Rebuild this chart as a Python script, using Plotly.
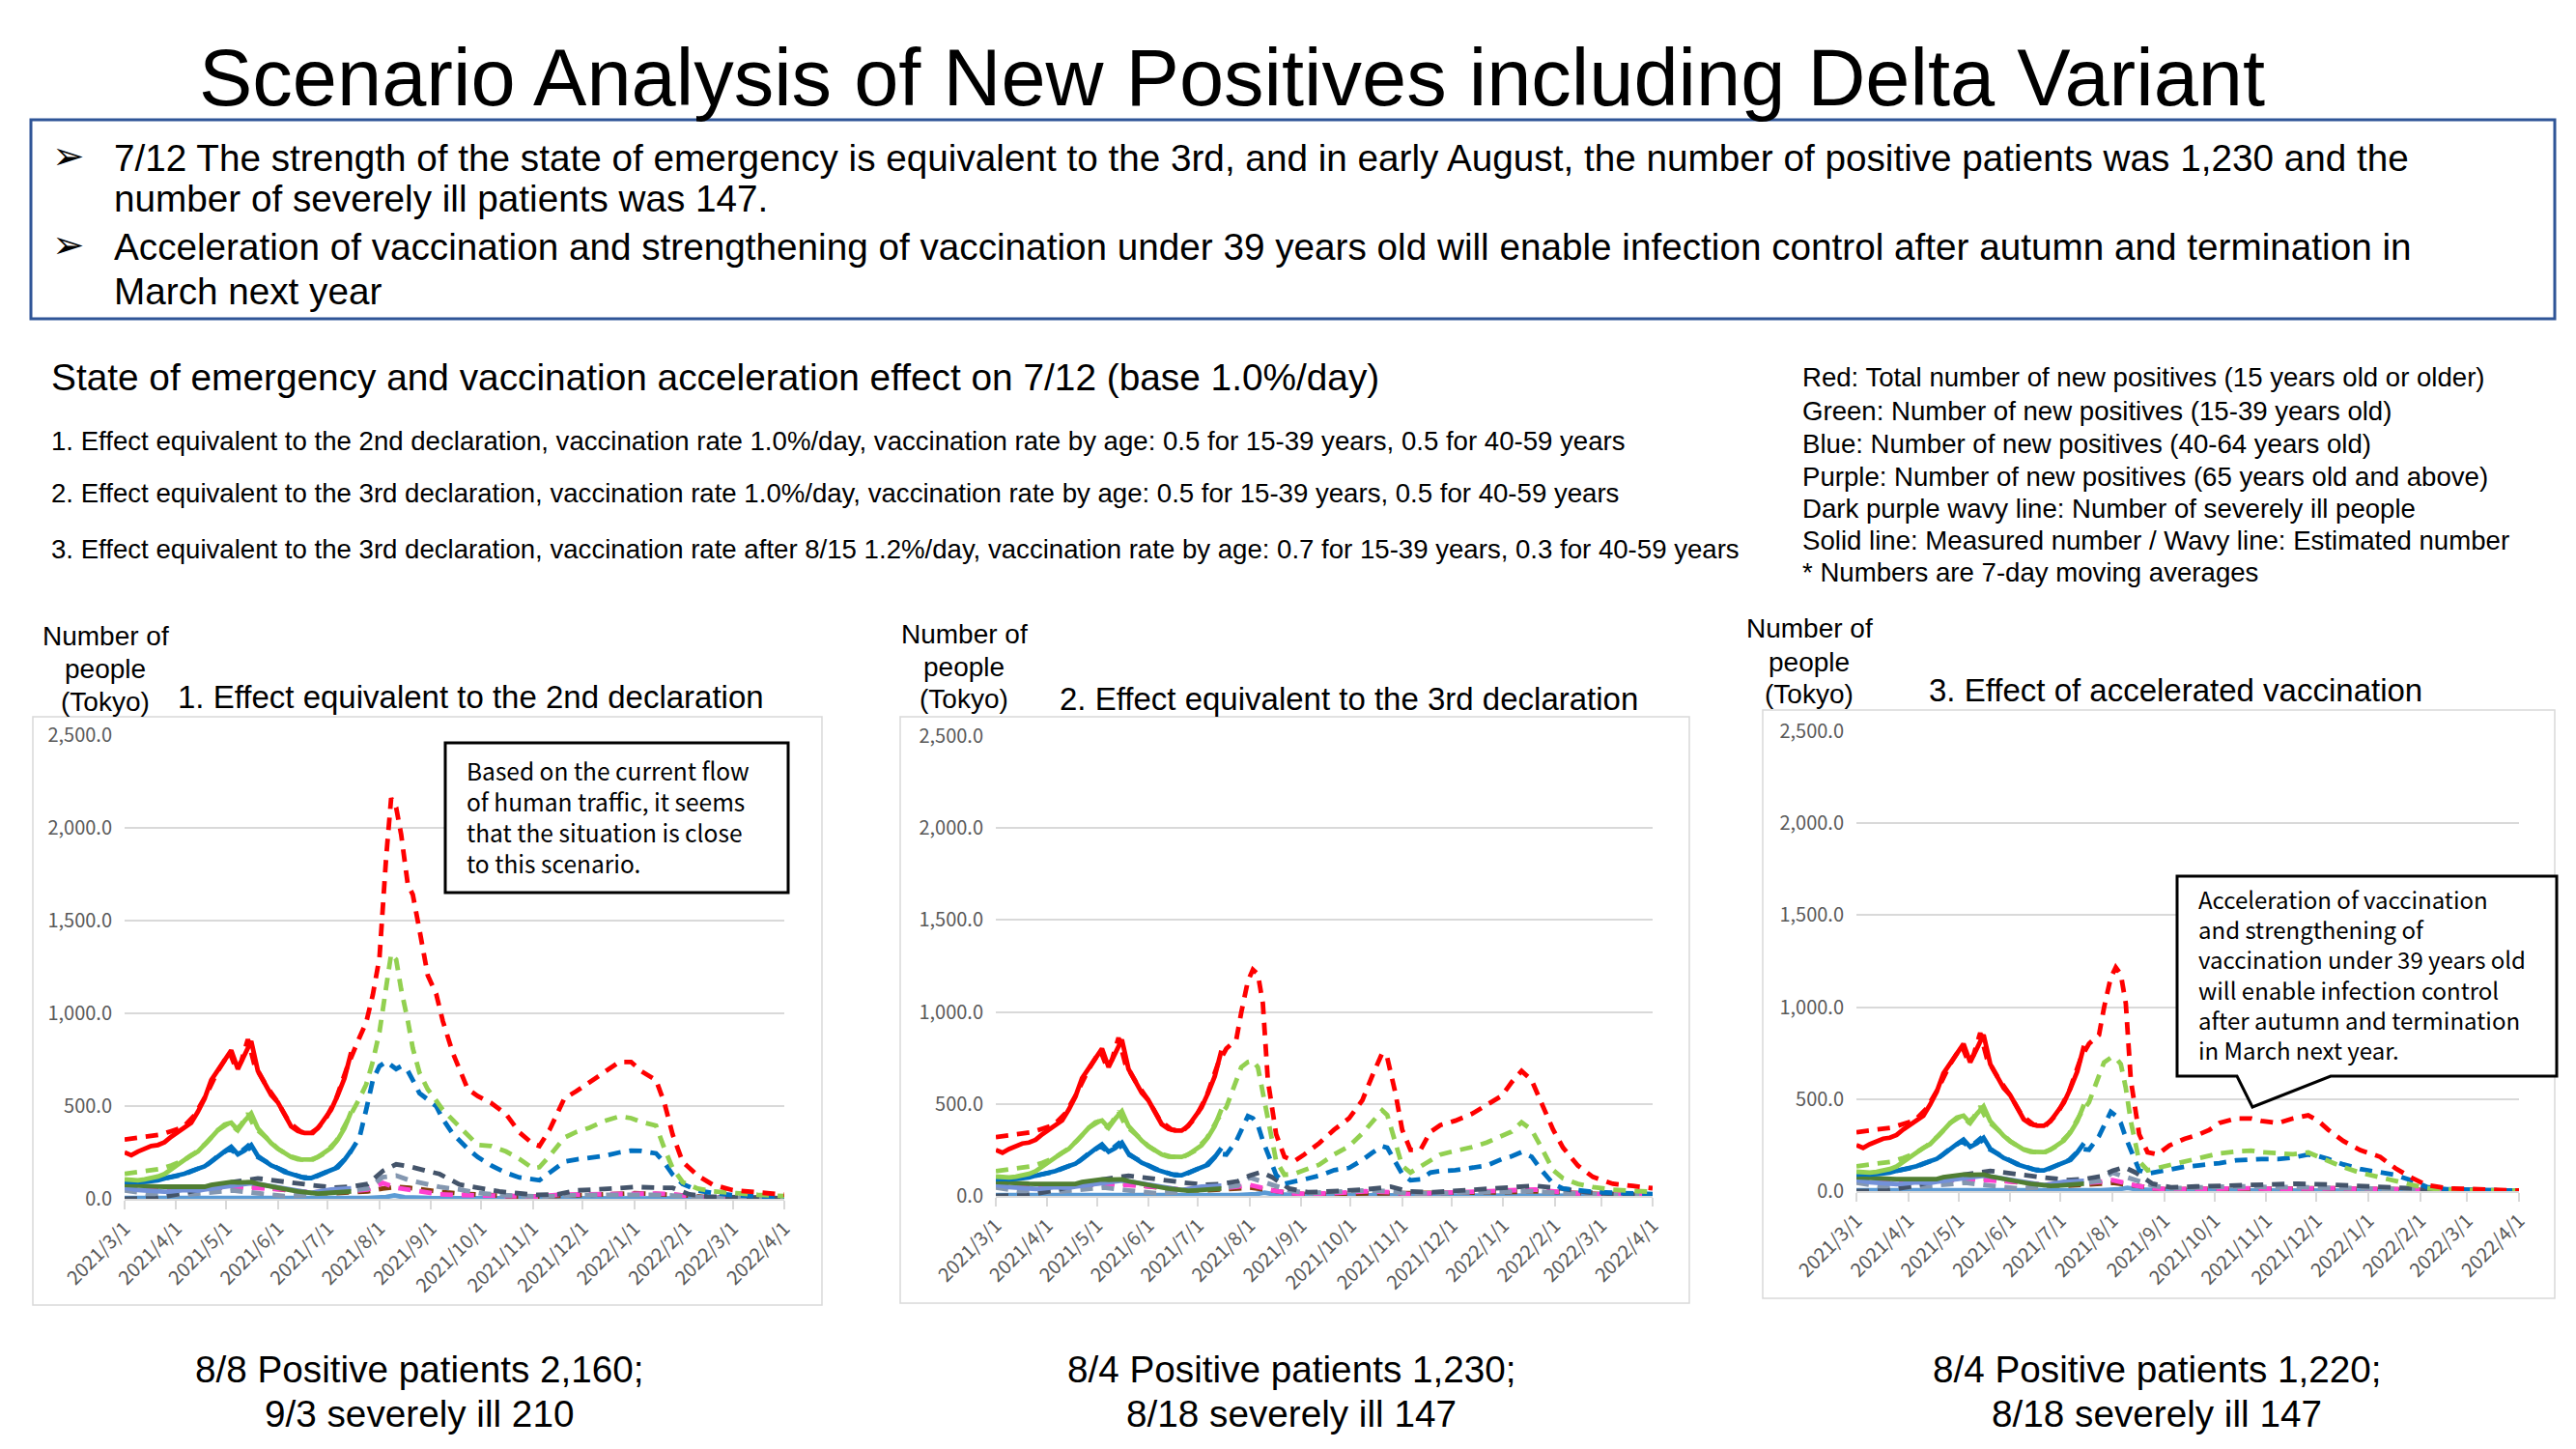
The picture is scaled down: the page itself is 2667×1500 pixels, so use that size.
import plotly.graph_objects as go

W, H = 2667, 1500

# ------------------------------------------------------------------ data
month_ticks = ["2021-03-01", "2021-04-01", "2021-05-01", "2021-06-01", "2021-07-01",
               "2021-08-01", "2021-09-01", "2021-10-01", "2021-11-01", "2021-12-01",
               "2022-01-01", "2022-02-01", "2022-03-01", "2022-04-01"]
month_labels = ["2021/3/1", "2021/4/1", "2021/5/1", "2021/6/1", "2021/7/1", "2021/8/1",
                "2021/9/1", "2021/10/1", "2021/11/1", "2021/12/1", "2022/1/1", "2022/2/1",
                "2022/3/1", "2022/4/1"]
y_ticks = [0, 500, 1000, 1500, 2000, 2500]

# measured (solid) series, shared by the three scenarios
meas_dates = ["2021-03-01", "2021-03-05", "2021-03-09", "2021-03-13", "2021-03-17", "2021-03-21",
              "2021-03-25", "2021-03-29", "2021-04-02", "2021-04-06", "2021-04-10", "2021-04-14",
              "2021-04-18", "2021-04-22", "2021-04-26", "2021-04-30", "2021-05-04", "2021-05-08",
              "2021-05-12", "2021-05-16", "2021-05-20", "2021-05-24", "2021-05-28", "2021-06-01",
              "2021-06-05", "2021-06-09", "2021-06-13", "2021-06-17", "2021-06-21", "2021-06-25",
              "2021-06-29", "2021-07-03", "2021-07-07", "2021-07-11", "2021-07-15"]
red_meas = [250, 235, 255, 270, 285, 290, 305, 335, 360, 380, 410, 470, 540, 640, 690, 740, 800, 700,
            770, 850, 690, 620, 560, 520, 450, 390, 365, 355, 355, 380, 430, 480, 560, 650, 790]
green_meas = [105, 100, 100, 105, 110, 120, 134, 160, 185, 210, 235, 255, 290, 330, 370, 400, 410, 370,
              420, 460, 380, 340, 300, 270, 245, 225, 213, 210, 212, 225, 250, 275, 320, 380, 470]
blue_meas = [95, 90, 90, 92, 95, 100, 110, 118, 125, 135, 150, 160, 175, 200, 230, 255, 280, 240,
             260, 290, 230, 205, 180, 165, 145, 134, 120, 112, 112, 125, 140, 155, 170, 210, 260]
dkgreen_meas = [75, 72, 70, 68, 68, 66, 65, 65, 62, 60, 60, 62, 65, 75, 82, 88, 90, 88,
                92, 90, 80, 72, 68, 60, 52, 46, 40, 34, 30, 28, 30, 32, 35, 38, 40]
lavender_meas = [60, 52, 48, 45, 42, 40, 38, 40, 45, 48, 46, 44, 50, 55, 60, 64, 68, 72,
                 80, 84, 80, 74, 68, 62, 56, 50, 42, 36, 32, 38, 45, 50, 52, 55, 56]

lightblue_dates = ["2021-03-01", "2021-04-01", "2021-05-01", "2021-06-01", "2021-07-01", "2021-07-25",
                   "2021-08-05", "2021-08-10", "2021-08-16", "2021-09-01", "2021-10-01", "2021-11-01",
                   "2021-12-01", "2022-01-01", "2022-02-01", "2022-03-01", "2022-04-01"]
lightblue_vals = [4, 3, 5, 4, 3, 5, 10, 18, 8, 4, 3, 2, 3, 3, 2, 1, 1]

# estimated (dashed) series: common early part
est_early_dates = ["2021-03-01", "2021-03-08", "2021-03-15", "2021-03-22", "2021-03-29", "2021-04-05",
                   "2021-04-12", "2021-04-19", "2021-04-26", "2021-05-03", "2021-05-07", "2021-05-10",
                   "2021-05-14", "2021-05-18", "2021-05-25", "2021-06-01", "2021-06-08", "2021-06-15",
                   "2021-06-22", "2021-06-29", "2021-07-06", "2021-07-13"]
red_est_early = [320, 330, 335, 345, 365, 385, 450, 560, 690, 790, 700, 740, 860, 720, 610, 520, 410,
                 360, 355, 420, 540, 720]
green_est_early = [135, 145, 150, 160, 180, 205, 245, 300, 370, 410, 375, 400, 460, 385, 330, 270, 230,
                   212, 212, 245, 310, 420]
blue_est_early = [90, 92, 98, 105, 118, 130, 155, 180, 230, 270, 245, 255, 285, 235, 200, 165, 138,
                  118, 112, 140, 168, 230]

# scenario 1: effect equivalent to the 2nd declaration
s1_late_dates = ["2021-07-20", "2021-07-24", "2021-07-28", "2021-08-01", "2021-08-05", "2021-08-08",
                 "2021-08-11", "2021-08-14", "2021-08-18", "2021-08-21", "2021-08-25", "2021-08-30",
                 "2021-09-04", "2021-09-08", "2021-09-14", "2021-09-23", "2021-09-29", "2021-10-07",
                 "2021-10-16", "2021-10-24", "2021-11-01", "2021-11-05", "2021-11-11", "2021-11-20",
                 "2021-11-27", "2021-12-05", "2021-12-14", "2021-12-23", "2021-12-30", "2022-01-05",
                 "2022-01-14", "2022-01-19", "2022-01-24", "2022-01-30", "2022-02-08", "2022-02-17",
                 "2022-03-01", "2022-03-16", "2022-04-01"]
s1_red_late = [870, 950, 1100, 1300, 1840, 2160, 2110, 1965, 1695, 1640, 1450, 1204, 1106, 959, 787,
               591, 554, 517, 456, 358, 297, 285, 370, 542, 579, 628, 689, 738, 738, 689, 640, 518,
               346, 199, 125, 76, 47, 32, 22]
s1_green_late = [540, 616, 740, 900, 1150, 1320, 1290, 1130, 960, 812, 680, 590, 530, 480, 425, 345,
                 290, 285, 255, 215, 165, 170, 230, 330, 360, 383, 420, 444, 435, 415, 395, 272, 165,
                 90, 55, 40, 30, 22, 15]
s1_blue_late = [330, 480, 640, 715, 740, 720, 700, 715, 690, 640, 570, 535, 500, 430, 350, 270, 225,
                180, 140, 115, 102, 100, 140, 200, 212, 220, 232, 250, 260, 258, 245, 195, 130, 80,
                45, 32, 20, 14, 8]

# scenario 2: effect equivalent to the 3rd declaration
s2_late_dates = ["2021-07-18", "2021-07-24", "2021-07-27", "2021-07-31", "2021-08-03", "2021-08-06",
                 "2021-08-09", "2021-08-12", "2021-08-17", "2021-08-22", "2021-08-28", "2021-09-03",
                 "2021-09-12", "2021-09-21", "2021-09-30", "2021-10-08", "2021-10-14", "2021-10-20",
                 "2021-10-23", "2021-10-28", "2021-11-01", "2021-11-06", "2021-11-12", "2021-11-18",
                 "2021-11-24", "2021-12-03", "2021-12-13", "2021-12-22", "2021-12-31", "2022-01-06",
                 "2022-01-12", "2022-01-18", "2022-01-24", "2022-01-31", "2022-02-06", "2022-02-15",
                 "2022-02-24", "2022-03-08", "2022-03-20", "2022-04-01"]
s2_red_late = [801, 850, 998, 1169, 1230, 1206, 1047, 630, 336, 213, 189, 225, 287, 360, 422, 520,
               654, 777, 752, 556, 360, 250, 250, 348, 385, 409, 446, 495, 544, 618, 679, 630, 507,
               360, 262, 164, 103, 66, 54, 42]
s2_green_late = [483, 640, 700, 728, 735, 700, 560, 400, 190, 115, 120, 140, 170, 225, 270, 340, 400,
                 465, 440, 287, 164, 127, 160, 195, 225, 245, 265, 290, 324, 350, 400, 360, 262, 140,
                 95, 65, 48, 34, 28, 22]
s2_blue_late = [225, 299, 360, 434, 422, 385, 300, 230, 115, 66, 75, 90, 110, 140, 152, 195, 235, 270,
                262, 189, 120, 85, 90, 127, 135, 140, 150, 165, 200, 215, 238, 213, 140, 66, 40, 28,
                22, 17, 13, 10]

# scenario 3: effect of accelerated vaccination
s3_late_dates = ["2021-07-18", "2021-07-24", "2021-07-27", "2021-07-31", "2021-08-03", "2021-08-06",
                 "2021-08-09", "2021-08-12", "2021-08-17", "2021-08-22", "2021-08-28", "2021-09-04",
                 "2021-09-13", "2021-09-22", "2021-09-28", "2021-10-04", "2021-10-14", "2021-10-23",
                 "2021-10-29", "2021-11-08", "2021-11-17", "2021-11-26", "2021-12-02", "2021-12-08",
                 "2021-12-17", "2021-12-27", "2022-01-08", "2022-01-17", "2022-01-26", "2022-02-05",
                 "2022-02-17", "2022-03-10", "2022-04-01"]
s3_red_late = [801, 850, 998, 1160, 1216, 1179, 1020, 603, 309, 211, 199, 248, 284, 309, 333, 370,
               395, 395, 382, 370, 395, 412, 382, 333, 272, 223, 186, 125, 76, 32, 15, 7, 3]
s3_green_late = [483, 640, 700, 725, 725, 690, 560, 380, 162, 113, 125, 140, 162, 180, 190, 205, 215,
                 220, 212, 205, 200, 210, 186, 165, 130, 100, 76, 55, 35, 15, 8, 4, 2]
s3_blue_late = [225, 299, 360, 431, 410, 370, 290, 220, 113, 95, 105, 122, 132, 140, 145, 152, 167,
                172, 174, 174, 182, 199, 190, 174, 145, 120, 100, 88, 60, 22, 10, 4, 2]

# minor estimated series (65+, severely ill, ...)
minor_early_dates = ["2021-03-01", "2021-03-20", "2021-04-05", "2021-04-20", "2021-05-05", "2021-05-20",
                     "2021-06-05", "2021-06-20", "2021-07-05", "2021-07-15"]
slate_early = [0, 3, 30, 60, 90, 110, 95, 75, 60, 65]
gray_early = [45, 20, 20, 30, 45, 30, 15, 20, 40, 45]
magenta_early = [65, 62, 60, 55, 65, 60, 50, 35, 38, 42]
brown_early = [50, 45, 45, 52, 70, 65, 45, 32, 30, 32]

s1_minor_dates = ["2021-07-25", "2021-08-03", "2021-08-11", "2021-08-19", "2021-08-29", "2021-09-06",
                  "2021-09-18", "2021-09-30", "2021-10-12", "2021-10-23", "2021-11-04", "2021-11-16",
                  "2021-11-27", "2021-12-20", "2022-01-01", "2022-01-13", "2022-01-24", "2022-02-03",
                  "2022-02-14", "2022-03-16", "2022-04-01"]
s1_slate_late = [80, 150, 186, 174, 151, 134, 77, 56, 40, 30, 21, 24, 45, 56, 64, 60, 59, 24, 12, 7, 3]
s1_gray_late = [56, 117, 125, 100, 80, 64, 50, 30, 21, 15, 12, 15, 20, 22, 25, 22, 18, 10, 6, 4, 3]
s1_magenta_late = [50, 85, 60, 50, 40, 24, 21, 18, 15, 12, 12, 22, 24, 28, 30, 28, 25, 12, 6, 4, 3]
s1_brown_late = [40, 55, 64, 59, 45, 38, 28, 21, 17, 12, 12, 17, 21, 26, 30, 26, 24, 17, 9, 5, 3]

s23_minor_dates = ["2021-07-25", "2021-08-01", "2021-08-08", "2021-08-15", "2021-08-25", "2021-09-05",
                   "2021-09-20", "2021-10-10", "2021-10-25", "2021-11-05", "2021-11-20", "2021-12-10",
                   "2022-01-01", "2022-01-20", "2022-02-05", "2022-02-20", "2022-03-10", "2022-04-01"]
s2_slate_late = [80, 110, 130, 100, 40, 20, 25, 35, 50, 25, 20, 30, 40, 55, 40, 20, 10, 5]
s2_gray_late = [56, 100, 80, 60, 30, 15, 20, 30, 25, 12, 15, 18, 25, 25, 15, 8, 5, 3]
s2_magenta_late = [50, 60, 45, 30, 15, 10, 15, 25, 20, 10, 15, 20, 30, 35, 20, 10, 6, 3]
s2_brown_late = [40, 45, 40, 30, 15, 8, 12, 15, 15, 15, 15, 18, 20, 25, 20, 12, 6, 3]
s3_slate_late = [80, 110, 130, 100, 40, 20, 25, 30, 35, 35, 40, 35, 25, 18, 10, 5, 3, 1]
s3_gray_late = [56, 100, 80, 60, 30, 15, 20, 25, 25, 20, 22, 20, 15, 10, 6, 3, 2, 1]
s3_magenta_late = [50, 60, 45, 30, 15, 10, 12, 15, 15, 12, 15, 15, 12, 8, 5, 3, 2, 1]
s3_brown_late = [40, 45, 40, 30, 15, 8, 12, 14, 15, 15, 18, 15, 12, 8, 5, 3, 2, 1]

panel_titles = ["1. Effect equivalent to the 2nd declaration",
                "2. Effect equivalent to the 3rd declaration",
                "3. Effect of accelerated vaccination"]
panel_captions = [["8/8 Positive patients 2,160;", "9/3 severely ill 210"],
                  ["8/4 Positive patients 1,230;", "8/18 severely ill 147"],
                  ["8/4 Positive patients 1,220;", "8/18 severely ill 147"]]

# ------------------------------------------------------------------ styles
C_RED, C_GREEN, C_BLUE = "#FF0000", "#92D050", "#0070C0"
C_DKGREEN, C_LAV, C_LB = "#507E32", "#7391D8", "#5B9BD5"
C_SLATE, C_GRAY, C_MAG, C_BROWN = "#44546A", "#8497B0", "#FF40D0", "#843C0C"
DASH = "13px,9px"
LW = 4.8

JP = "Noto Sans CJK JP"
AR = "Liberation Sans, Arial"


def px(x):
    return x / W


def py(y):
    return 1 - y / H


# panel geometry (pixels): plot-area left/right, y of 2500 and y of 0
panels = [dict(x0=129, x1=812, ytop=761, ybot=1241, box=(34, 742, 851, 1351)),
          dict(x0=1031, x1=1711, ytop=762, ybot=1238, box=(932, 742, 1749, 1349)),
          dict(x0=1922, x1=2608, ytop=757, ybot=1233, box=(1825, 735, 2645, 1344))]

scen = [
    dict(red=s1_red_late, green=s1_green_late, blue=s1_blue_late, dates=s1_late_dates,
         mdates=s1_minor_dates, slate=s1_slate_late, gray=s1_gray_late,
         mag=s1_magenta_late, brown=s1_brown_late),
    dict(red=s2_red_late, green=s2_green_late, blue=s2_blue_late, dates=s2_late_dates,
         mdates=s23_minor_dates, slate=s2_slate_late, gray=s2_gray_late,
         mag=s2_magenta_late, brown=s2_brown_late),
    dict(red=s3_red_late, green=s3_green_late, blue=s3_blue_late, dates=s3_late_dates,
         mdates=s23_minor_dates, slate=s3_slate_late, gray=s3_gray_late,
         mag=s3_magenta_late, brown=s3_brown_late),
]

fig = go.Figure()


def line(x, y, color, dash, k, width=LW):
    fig.add_trace(go.Scatter(x=x, y=y, mode="lines",
                             line=dict(color=color, width=width, dash=dash),
                             xaxis="x" if k == 0 else f"x{k+1}",
                             yaxis="y" if k == 0 else f"y{k+1}",
                             showlegend=False, hoverinfo="skip"))


for k, s in enumerate(scen):
    md = minor_early_dates + s["mdates"]
    line(lightblue_dates, lightblue_vals, C_LB, "solid", k)
    line(md, brown_early + s["brown"], C_BROWN, DASH, k)
    line(md, magenta_early + s["mag"], C_MAG, DASH, k)
    line(md, gray_early + s["gray"], C_GRAY, DASH, k)
    line(md, slate_early + s["slate"], C_SLATE, DASH, k)
    line(meas_dates, lavender_meas, C_LAV, "solid", k)
    line(meas_dates, dkgreen_meas, C_DKGREEN, "solid", k)
    ed = est_early_dates + s["dates"]
    line(ed, blue_est_early + s["blue"], C_BLUE, DASH, k)
    line(meas_dates, blue_meas, C_BLUE, "solid", k)
    line(ed, green_est_early + s["green"], C_GREEN, DASH, k)
    line(meas_dates, green_meas, C_GREEN, "solid", k)
    line(ed, red_est_early + s["red"], C_RED, DASH, k)
    line(meas_dates, red_meas, C_RED, "solid", k)

layout = dict(width=W, height=H, margin=dict(l=0, r=0, t=0, b=0, pad=0, autoexpand=False),
              paper_bgcolor="white", plot_bgcolor="white", showlegend=False)

for k, p in enumerate(panels):
    sx = "xaxis" if k == 0 else f"xaxis{k+1}"
    sy = "yaxis" if k == 0 else f"yaxis{k+1}"
    layout[sx] = dict(domain=[px(p["x0"]), px(p["x1"])], anchor="y" if k == 0 else f"y{k+1}",
                      type="date", range=["2021-03-01", "2022-04-01"], automargin=False,
                      tickvals=month_ticks, ticktext=month_labels, tickangle=-45,
                      tickfont=dict(family=JP, size=20, color="#595959"),
                      showgrid=False, zeroline=False, showline=True, linecolor="#D9D9D9",
                      linewidth=2, ticks="outside", ticklen=9, tickcolor="#D9D9D9", tickwidth=2)
    layout[sy] = dict(domain=[py(p["ybot"]), py(p["ytop"])], anchor="x" if k == 0 else f"x{k+1}",
                      range=[0, 2500], tickvals=y_ticks, tickformat=",.1f", automargin=False,
                      tickfont=dict(family=JP, size=20, color="#595959"),
                      showgrid=True, gridcolor="#D9D9D9", gridwidth=1.5, zeroline=False,
                      showline=False, ticks="", ticklabelstandoff=12)

fig.update_layout(**layout)

shapes = []
ann = []


def text(x, y, s, size, family=AR, anchor="left", color="black", yanchor="middle"):
    ann.append(dict(x=px(x), y=py(y), xref="paper", yref="paper", text=s, showarrow=False,
                    xanchor=anchor, yanchor=yanchor, align=anchor,
                    font=dict(family=family, size=size, color=color)))


# panel borders
for p in panels:
    b = p["box"]
    shapes.append(dict(type="rect", xref="paper", yref="paper", x0=px(b[0]), x1=px(b[2]),
                       y0=py(b[1]), y1=py(b[3]), line=dict(color="#D9D9D9", width=1.5),
                       layer="below"))

# title + summary box
text(1275, 80, "Scenario Analysis of New Positives including Delta Variant", 83, anchor="center")
shapes.append(dict(type="rect", xref="paper", yref="paper", x0=px(32), x1=px(2645),
                   y0=py(124), y1=py(330), line=dict(color="#2F5597", width=3)))
text(52, 161, "➢", 40, family="DejaVu Sans")
text(52, 253, "➢", 40, family="DejaVu Sans")
text(116, 163, "7/12 The strength of the state of emergency is equivalent to the 3rd, and in early "
     "August, the number of positive patients was 1,230 and the", 38.7)
text(116, 206, "number of severely ill patients was 147.", 38.7)
text(116, 255, "Acceleration of vaccination and strengthening of vaccination under 39 years old will "
     "enable infection control after autumn and termination in", 38.7)
text(116, 301, "March next year", 38.7)

text(51, 390, "State of emergency and vaccination acceleration effect on 7/12 (base 1.0%/day)", 38.8)
text(51, 456, "1. Effect equivalent to the 2nd declaration, vaccination rate 1.0%/day, vaccination "
     "rate by age: 0.5 for 15-39 years, 0.5 for 40-59 years", 27.6)
text(51, 510, "2. Effect equivalent to the 3rd declaration, vaccination rate 1.0%/day, vaccination "
     "rate by age: 0.5 for 15-39 years, 0.5 for 40-59 years", 27.6)
text(51, 568, "3. Effect equivalent to the 3rd declaration, vaccination rate after 8/15 1.2%/day, "
     "vaccination rate by age: 0.7 for 15-39 years, 0.3 for 40-59 years", 27.6)

legend_lines = ["Red: Total number of new positives (15 years old or older)",
                "Green: Number of new positives (15-39 years old)",
                "Blue: Number of new positives (40-64 years old)",
                "Purple: Number of new positives (65 years old and above)",
                "Dark purple wavy line: Number of severely ill people",
                "Solid line: Measured number / Wavy line: Estimated number",
                "* Numbers are 7-day moving averages"]
for i, (s, y) in enumerate(zip(legend_lines, [391, 425, 459, 493, 526, 560, 592])):
    text(1864, y, s, 27.6)

# per-panel labels
ylab_pos = [(109, [658, 692, 726]), (998, [657, 690, 723]), (1873, [651, 685, 718])]
for (cx, ys) in ylab_pos:
    for s, y in zip(["Number of", "people", "(Tokyo)"], ys):
        text(cx, y, s, 28, anchor="center")
title_pos = [(182, 721), (1095, 723), (1995, 714)]
for s, (x, y) in zip(panel_titles, title_pos):
    text(x, y, s, 33)
cap_x = [434, 1337, 2233]
for cx, cap in zip(cap_x, panel_captions):
    text(cx, 1417, cap[0], 38.7, anchor="center")
    text(cx, 1463, cap[1], 38.7, anchor="center")

# annotation box, panel 1
shapes.append(dict(type="rect", xref="paper", yref="paper", x0=px(461), x1=px(816),
                   y0=py(769), y1=py(924), line=dict(color="black", width=3),
                   fillcolor="white"))
text(481, 845, "Based on the current flow<br>of human traffic, it seems<br>"
     "that the situation is close<br>to this scenario.", 24.5, family=JP)

# callout, panel 3
bx0, bx1, by0, by1 = 2254, 2647, 907, 1114
path = (f"M {px(bx0)},{py(by0)} L {px(bx1)},{py(by0)} L {px(bx1)},{py(by1)} "
        f"L {px(2413)},{py(by1)} L {px(2332)},{py(1146)} L {px(2316)},{py(by1)} "
        f"L {px(bx0)},{py(by1)} Z")
shapes.append(dict(type="path", xref="paper", yref="paper", path=path,
                   line=dict(color="black", width=3), fillcolor="white"))
text(2274, 1008, "Acceleration of vaccination<br>and strengthening of<br>"
     "vaccination under 39 years old<br>will enable infection control<br>"
     "after autumn and termination<br>in March next year.", 24, family=JP)

fig.update_layout(shapes=shapes, annotations=ann)

fig.write_html("out.html", include_plotlyjs=True, config={"displayModeBar": False},
               post_script="document.body.style.margin='0';document.body.style.overflow='hidden';")
